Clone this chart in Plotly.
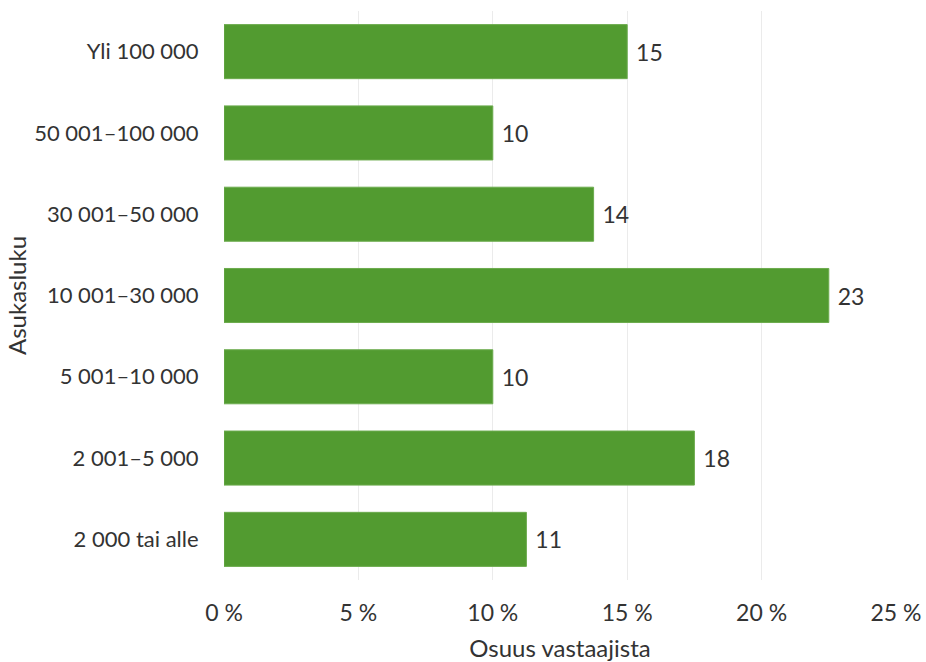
import plotly.graph_objects as go

categories = ["2 000 tai alle", "2 001–5 000", "5 001–10 000", "10 001–30 000",
              "30 001–50 000", "50 001–100 000", "Yli 100 000"]
values = [11.25, 17.5, 10.0, 22.5, 13.75, 10.0, 15.0]
x_ticks = [0, 5, 10, 15, 20, 25]
x_ticktext = ["0 %", "5 %", "10 %", "15 %", "20 %", "25 %"]

FONT = "Source Sans Pro, Lato, sans-serif"
TXT = "#333333"

fig = go.Figure(go.Bar(
    y=categories, x=values, orientation="h",
    marker=dict(color="#529B30", line=dict(color="#6CAB4E", width=1)),
    width=0.665,
    texttemplate=" %{x:.0f}", textposition="outside",
    textfont=dict(family=FONT, size=23, color=TXT),
    cliponaxis=False,
))

fig.update_layout(
    width=926, height=662,
    margin=dict(l=224, r=30, t=11, b=82),
    plot_bgcolor="white", paper_bgcolor="white",
    font=dict(family=FONT, size=23, color=TXT),
    showlegend=False,
    xaxis=dict(
        range=[0, 25], tickvals=x_ticks, ticktext=x_ticktext,
        automargin=False,
        showgrid=True, gridcolor="#EBEBEB", gridwidth=1,
        zeroline=False, showline=False,
        ticks="outside", ticklen=12, tickcolor="rgba(0,0,0,0)",
        tickfont=dict(family=FONT, size=23, color=TXT),
        title=dict(text="Osuus vastaajista", standoff=18,
                   font=dict(family=FONT, size=24, color=TXT)),
    ),
    yaxis=dict(
        range=[-0.5, 6.5], categoryorder="array", categoryarray=categories,
        automargin=False,
        showgrid=False, zeroline=False, showline=False,
        ticks="outside", ticklen=20, tickcolor="rgba(0,0,0,0)",
        tickfont=dict(family=FONT, size=22, color=TXT),
        title=dict(text="Asukasluku", standoff=0,
                   font=dict(family=FONT, size=24, color=TXT)),
    ),
)

fig.write_html("out.html")
